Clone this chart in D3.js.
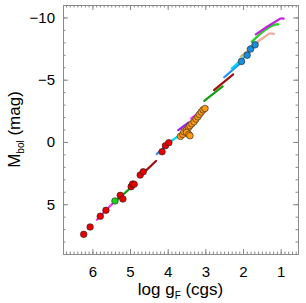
<!DOCTYPE html>
<html>
<head>
<meta charset="utf-8">
<script src="https://cdn.jsdelivr.net/npm/d3@7"></script>
<style>
  body { margin: 0; background: #fff; }
  svg { display: block; font-family: "Liberation Sans", Arial, sans-serif; }
  .frame path.domain { stroke: #8a8a8a; }
  .frame line { stroke: #8a8a8a; }
  .frame text { fill: #000; font-size: 15px; }
</style>
</head>
<body>
<script>
// model tracks: [log g, Mbol] pairs
var trackColors = ["#ff30ff", "#10a010", "#a01010", "#1e90ff", "#00d8f0", "#a020f0",
                   "#ff30ff", "#10a010", "#a01010", "#1e90ff", "#00d8f0", "#c8b878",
                   "#f4a8a0", "#20d020", "#c020e0"];
var trackPoints = [
  [[5.88, 6.25], [5.40, 4.75]],
  [[5.40, 4.80], [5.00, 3.73]],
  [[4.65, 2.50], [4.31, 1.53]],
  [[4.29, 0.97], [3.94, -0.02]],
  [[4.06, 0.27], [3.67, -0.58]],
  [[3.72, -0.95], [3.45, -1.55]],
  [[3.38, -1.90], [2.95, -2.80]],
  [[3.03, -3.30], [2.54, -4.46]],
  [[2.77, -4.17], [2.26, -5.43]],
  [[2.50, -5.20], [2.00, -6.50]],
  [[2.30, -5.90], [1.86, -7.11]],
  [[2.06, -6.85], [1.60, -8.00]],
  [[1.88, -7.50], [1.42, -8.45], [1.28, -8.72], [1.18, -8.68]],
  [[1.77, -8.04], [1.28, -9.25], [1.12, -9.45], [1.06, -9.45]],
  [[1.66, -8.64], [1.12, -9.70], [0.98, -9.92], [0.92, -9.90]]
];

// stars
var redStars = [[6.23, 7.42], [6.06, 6.83], [5.79, 5.97], [5.64, 5.49], [5.26, 4.29],
                [5.19, 4.58], [4.97, 3.59], [4.93, 3.38], [4.89, 3.40], [4.73, 2.66],
                [4.65, 2.39], [4.15, 0.79], [4.06, 0.30], [3.97, 0.06]];
var greenStars = [[5.40, 4.74]];
var orangeStars = [[3.66, -0.45], [3.60, -0.61], [3.57, -0.82], [3.51, -0.95], [3.45, -1.14],
                   [3.41, -1.30], [3.36, -1.46], [3.30, -1.62], [3.25, -1.84], [3.20, -2.02],
                   [3.16, -2.21], [3.11, -2.40], [3.06, -2.58], [3.01, -2.69],
                   [3.50, -0.77], [3.44, -0.61], [3.41, -0.50]];
var blueStars = [[2.04, -6.47], [1.89, -6.97], [1.80, -7.46], [1.68, -7.80]];

var xMajor = [6, 5, 4, 3, 2, 1];
var yMajor = [-10, -5, 0, 5];

var W = 306, H = 303;
var margin = {top: 5, right: 8, bottom: 49, left: 63};

var svg = d3.select("body").append("svg").attr("width", W).attr("height", H);

var x = d3.scaleLinear().domain([6.78, 0.54]).range([margin.left, W - margin.right]);
var y = d3.scaleLinear().domain([-11, 9]).range([margin.top, H - margin.bottom]);

var xMinor = d3.range(6, 68).map(function(d) { return d / 10; });
var yMinor = d3.range(-11, 10);

function addAxis(axisFn, scale, tr, major, minor, labels) {
  var g = svg.append("g").attr("class", "frame").attr("transform", tr);
  g.call(axisFn(scale).tickValues(minor).tickSize(-2.5).tickFormat(""));
  var g2 = svg.append("g").attr("class", "frame").attr("transform", tr);
  g2.call(axisFn(scale).tickValues(major).tickSizeInner(-5).tickSizeOuter(0)
    .tickPadding(labels ? 8 : 0).tickFormat(labels ? d3.format("") : ""));
  g2.select(".domain").remove();
  return g2;
}

var bottom = H - margin.bottom, right = W - margin.right;
addAxis(d3.axisBottom, x, "translate(0," + bottom + ")", xMajor, xMinor, true)
  .selectAll("text").attr("dy", "1.0em");
addAxis(d3.axisTop, x, "translate(0," + margin.top + ")", xMajor, xMinor, false);
addAxis(d3.axisLeft, y, "translate(" + margin.left + ",0)", yMajor, yMinor, true);
addAxis(d3.axisRight, y, "translate(" + right + ",0)", yMajor, yMinor, false);

var line = d3.line().x(function(d) { return x(d[0]); }).y(function(d) { return y(d[1]); })
  .curve(d3.curveMonotoneX);

svg.append("g").selectAll("path").data(trackPoints).join("path")
  .attr("d", function(d) { return line(d.slice().sort(function(a, b) { return a[0] - b[0]; })); })
  .attr("fill", "none")
  .attr("stroke", function(d, i) { return trackColors[i]; })
  .attr("stroke-width", 2.2)
  .attr("stroke-linecap", "round");

function dots(data, color) {
  svg.append("g").selectAll("circle").data(data).join("circle")
    .attr("cx", function(d) { return x(d[0]); })
    .attr("cy", function(d) { return y(d[1]); })
    .attr("r", 3.3)
    .attr("fill", color)
    .attr("stroke", "#222")
    .attr("stroke-width", 0.6);
}
dots(orangeStars, "#ff9a10");
dots(blueStars, "#1c8ee0");
dots(redStars, "#e80000");
dots(greenStars, "#20d020");

// axis titles
var yt = svg.append("text")
  .attr("transform", "translate(20," + ((margin.top + bottom) / 2) + ") rotate(-90)")
  .attr("text-anchor", "middle")
  .style("font-size", "17px");
yt.append("tspan").text("M");
yt.append("tspan").attr("dy", "4").style("font-size", "10px").text("bol");
yt.append("tspan").attr("dy", "-4").text(" (mag)");

var xt = svg.append("text")
  .attr("x", (margin.left + right) / 2)
  .attr("y", 295)
  .attr("text-anchor", "middle")
  .style("font-size", "17px");
xt.append("tspan").text("log g");
xt.append("tspan").attr("dy", "4").style("font-size", "10px").text("F");
xt.append("tspan").attr("dy", "-4").text(" (cgs)");
</script>
</body>
</html>
